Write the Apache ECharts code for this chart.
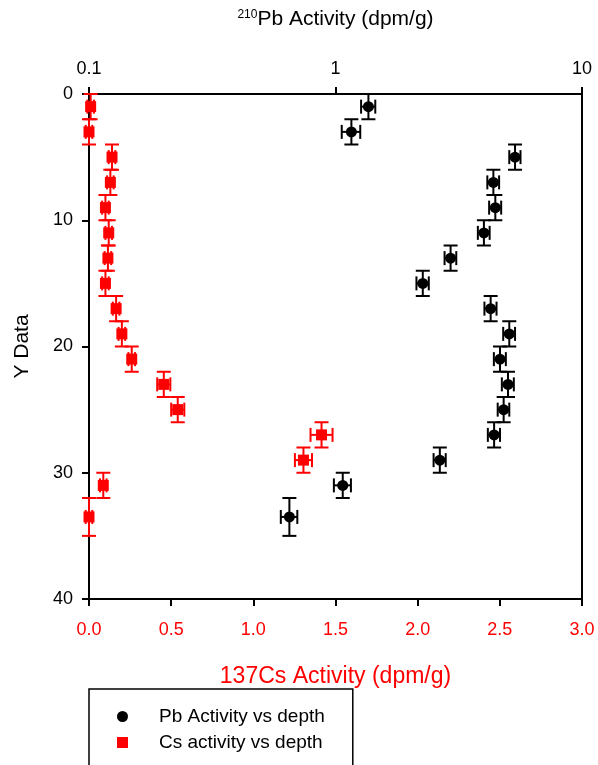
<!DOCTYPE html>
<html>
<head>
<meta charset="utf-8">
<script src="https://cdn.jsdelivr.net/npm/echarts@6/dist/echarts.min.js"></script>
<style>
  html, body { margin: 0; padding: 0; background: #fff; }
  #chart { width: 598px; height: 765px; }
</style>
</head>
<body>
<div id="chart"></div>
<script>
// depth of each sample (Y Data)
var depth = [1, 3, 5, 7, 9, 11, 13, 15, 17, 19, 21, 23, 25, 27, 29, 31, 33.5];
var depthErr = [1, 1, 1, 1, 1, 1, 1, 1, 1, 1, 1, 1, 1, 1, 1, 1, 1.5];
// 210Pb activity (top log axis)
var pbVal = [1.36, 1.16, 5.35, 4.37, 4.45, 4.00, 2.93, 2.26, 4.26, 5.07, 4.65, 5.01, 4.81, 4.40, 2.65, 1.07, 0.65];
var pbErr = [0.09, 0.10, 0.28, 0.24, 0.25, 0.22, 0.16, 0.13, 0.24, 0.28, 0.26, 0.28, 0.26, 0.25, 0.15, 0.085, 0.05];
// 137Cs activity (bottom linear axis)
var csVal = [0.01, 0.0, 0.14, 0.13, 0.10, 0.12, 0.115, 0.10, 0.165, 0.20, 0.26, 0.455, 0.54, 1.415, 1.305, 0.087, 0.0];
var csErr = [0.02, 0.02, 0.02, 0.02, 0.02, 0.02, 0.02, 0.02, 0.02, 0.02, 0.02, 0.04, 0.04, 0.067, 0.052, 0.02, 0.02];
// tick labels
var csTicks = ['0.0', '0.5', '1.0', '1.5', '2.0', '2.5', '3.0'];

var FONT = 'Liberation Sans, Arial, sans-serif';

function rows(xs, xe) {
  return depth.map(function (d, i) { return [xs[i], d, xe[i], depthErr[i]]; });
}

// error bars drawn via the axis scales
function errorBars(color) {
  return function (params, api) {
    var x = api.value(0), y = api.value(1), ex = api.value(2), ey = api.value(3);
    var l = api.coord([x - ex, y]), r = api.coord([x + ex, y]);
    var t = api.coord([x, y - ey]), b = api.coord([x, y + ey]);
    var cap = 7;
    var st = { stroke: color, lineWidth: 2 };
    var seg = function (x1, y1, x2, y2) {
      return { type: 'line', shape: { x1: x1, y1: y1, x2: x2, y2: y2 }, style: st };
    };
    return {
      type: 'group',
      children: [
        seg(t[0], t[1], b[0], b[1]),
        seg(t[0] - cap, t[1], t[0] + cap, t[1]),
        seg(b[0] - cap, b[1], b[0] + cap, b[1]),
        seg(l[0], l[1], r[0], r[1]),
        seg(l[0], l[1] - cap, l[0], l[1] + cap),
        seg(r[0], r[1] - cap, r[0], r[1] + cap)
      ]
    };
  };
}

var chart = echarts.init(document.getElementById('chart'));

var option = {
  animation: false,
  textStyle: { fontFamily: FONT },
  grid: {
    left: 89, right: 16, top: 94, bottom: 166,
    show: true, borderColor: '#000', borderWidth: 2, backgroundColor: 'transparent'
  },
  legend: {
    orient: 'vertical',
    left: 89, top: 689, height: 80,
    padding: [18, 28, 40, 28],
    itemWidth: 11, itemHeight: 11, itemGap: 7,
    borderColor: '#000', borderWidth: 1.5,
    textStyle: { fontSize: 19, color: '#000', fontFamily: FONT, padding: [0, 0, 0, 26] },
    data: [
      { name: 'Pb Activity vs depth', icon: 'circle', itemStyle: { color: '#000' } },
      { name: 'Cs activity vs depth', icon: 'rect', itemStyle: { color: '#ff0000' } }
    ]
  },
  xAxis: [
    {
      type: 'value', position: 'bottom', min: 0, max: 3, interval: 0.5,
      name: '137Cs Activity (dpm/g)', nameLocation: 'middle', nameGap: 66,
      nameTextStyle: { color: '#ff0000', fontSize: 23, fontFamily: FONT },
      axisLine: { show: true, onZero: false, lineStyle: { color: '#000', width: 2 } },
      axisTick: { show: true, inside: false, length: 7, lineStyle: { color: '#000', width: 2 } },
      axisLabel: {
        color: '#ff0000', fontSize: 18, margin: 22, fontFamily: FONT,
        formatter: function (v) { return csTicks[Math.round(v / 0.5)]; }
      },
      splitLine: { show: false }
    },
    {
      type: 'log', logBase: 10, position: 'top', min: 0.1, max: 10, interval: 1,
      name: '{sup|210}Pb Activity (dpm/g)', nameLocation: 'middle', nameGap: 64,
      nameTextStyle: {
        color: '#000', fontSize: 21, fontFamily: FONT,
        rich: { sup: { fontSize: 12, verticalAlign: 'top', padding: [0, 0, 9, 0], fontFamily: FONT } }
      },
      axisLine: { show: true, onZero: false, lineStyle: { color: '#000', width: 2 } },
      axisTick: { show: true, inside: false, length: 7, lineStyle: { color: '#000', width: 2 } },
      minorTick: { show: false },
      axisLabel: { color: '#000', fontSize: 18, margin: 16, fontFamily: FONT,
        formatter: function (v) { return String(+v.toPrecision(3)); } },
      splitLine: { show: false }
    }
  ],
  yAxis: {
    type: 'value', inverse: true, min: 0, max: 40, interval: 10,
    name: 'Y Data', nameLocation: 'middle', nameGap: 56,
    nameTextStyle: { color: '#000', fontSize: 21, fontFamily: FONT },
    axisLine: { show: true, onZero: false, lineStyle: { color: '#000', width: 2 } },
    axisTick: { show: true, inside: false, length: 7, lineStyle: { color: '#000', width: 2 } },
    axisLabel: { color: '#000', fontSize: 18, margin: 16, fontFamily: FONT },
    splitLine: { show: false }
  },
  series: [
    {
      type: 'custom', name: 'Pb err', xAxisIndex: 1, yAxisIndex: 0,
      renderItem: errorBars('#000'), data: rows(pbVal, pbErr),
      encode: { x: 0, y: 1 }, silent: true, z: 2
    },
    {
      type: 'custom', name: 'Cs err', xAxisIndex: 0, yAxisIndex: 0,
      renderItem: errorBars('#ff0000'), data: rows(csVal, csErr),
      encode: { x: 0, y: 1 }, silent: true, z: 2
    },
    {
      type: 'scatter', name: 'Pb Activity vs depth', xAxisIndex: 1, yAxisIndex: 0,
      symbol: 'circle', symbolSize: 11, itemStyle: { color: '#000', opacity: 1 },
      data: depth.map(function (d, i) { return [pbVal[i], d]; }), z: 3
    },
    {
      type: 'scatter', name: 'Cs activity vs depth', xAxisIndex: 0, yAxisIndex: 0,
      symbol: 'rect', symbolSize: 11, itemStyle: { color: '#ff0000', opacity: 1 },
      data: depth.map(function (d, i) { return [csVal[i], d]; }), z: 3
    }
  ]
};

chart.setOption(option);
</script>
</body>
</html>
